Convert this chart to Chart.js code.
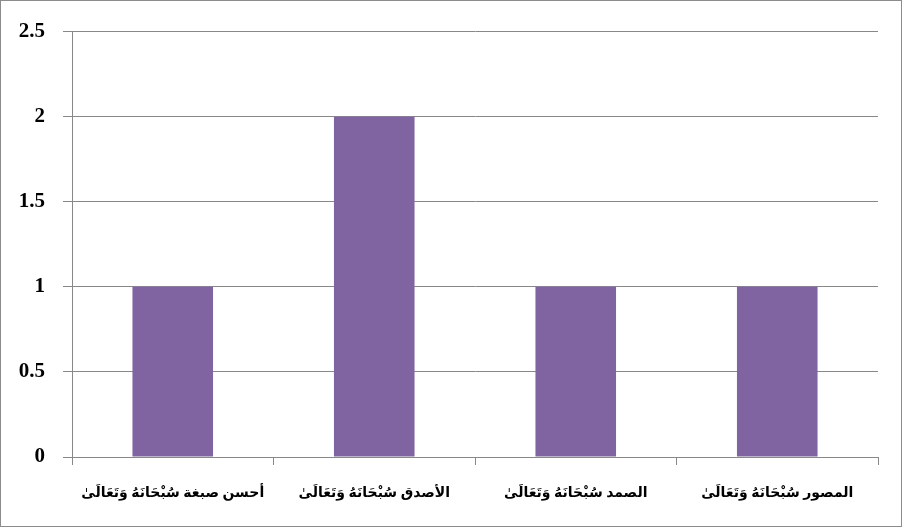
<!DOCTYPE html>
<html>
<head>
<meta charset="utf-8">
<script src="https://cdn.jsdelivr.net/npm/chart.js@4/dist/chart.umd.min.js"></script>
<style>
    body { margin: 0; background: #fff; }
    #box {
        width: 902px; height: 527px; box-sizing: border-box;
        border: 1px solid #8c8c8c; position: relative;
    }
    #box canvas { display: block; }
</style>
</head>
<body>
<div id="box"><canvas id="chart" width="900" height="525"></canvas></div>
<script>
    // Datos del gráfico
    const categories = [
        'أحسن صبغة سُبْحَانَهُ وَتَعَالَىٰ',
        'الأصدق سُبْحَانَهُ وَتَعَالَىٰ',
        'الصمد سُبْحَانَهُ وَتَعَالَىٰ',
        'المصور سُبْحَانَهُ وَتَعَالَىٰ'
    ];
    const values = [1, 2, 1, 1];
    const yTicks = [0, 0.5, 1, 1.5, 2, 2.5];

    const serif = "'Liberation Serif', 'Times New Roman', 'DejaVu Sans', serif";
    const gridColor = '#888888';

    new Chart(document.getElementById('chart'), {
        type: 'bar',
        data: {
            labels: categories,
            datasets: [{
                data: values,
                backgroundColor: '#8064A2',
                borderWidth: 0,
                barPercentage: 0.5,
                categoryPercentage: 0.8
            }]
        },
        options: {
            responsive: false,
            animation: false,
            layout: { padding: { top: 29, right: 23, left: 0, bottom: 0 } },
            plugins: { legend: { display: false }, tooltip: { enabled: false } },
            scales: {
                x: {
                    grid: {
                        offset: true,
                        drawOnChartArea: false,
                        drawTicks: true,
                        tickLength: 8,
                        color: gridColor
                    },
                    border: { display: false },
                    ticks: {
                        color: '#000',
                        padding: 20,
                        autoSkip: false,
                        maxRotation: 0,
                        font: { family: serif, size: 14, weight: 'bold' }
                    },
                    afterFit: function (scale) { scale.height = 69; }
                },
                y: {
                    min: 0,
                    max: 2.5,
                    afterBuildTicks: function (scale) {
                        scale.ticks = yTicks.map(v => ({ value: v }));
                    },
                    grid: {
                        color: gridColor,
                        tickLength: 9,
                        drawTicks: true
                    },
                    border: { display: true, color: gridColor },
                    ticks: {
                        color: '#000',
                        padding: 18,
                        callback: v => String(v),
                        font: { family: serif, size: 21, weight: 'bold' }
                    },
                    afterFit: function (scale) { scale.width = 71; }
                }
            }
        }
    });
</script>
</body>
</html>
